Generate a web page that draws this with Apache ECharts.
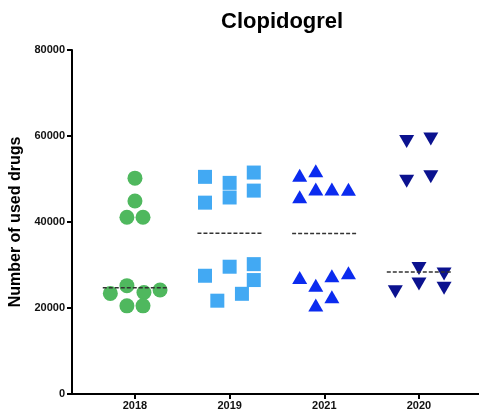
<!DOCTYPE html>
<html><head><meta charset="utf-8">
<script src="https://cdn.jsdelivr.net/npm/echarts@6/dist/echarts.min.js"></script>
<style>html,body{margin:0;padding:0;background:#fff}#c{width:479px;height:416px}</style>
</head><body><div id="c"></div>
<script>
var categories = ['2018', '2019', '2021', '2020'];
var yTicks = [0, 20000, 40000, 60000, 80000];
// values per group and their horizontal jitter (in category units)
var v2018 = [50200, 44900, 41100, 41100, 25200, 23400, 23600, 24200, 20500, 20500];
var j2018 = [0, 0, -0.085, 0.085, -0.085, -0.26, 0.095, 0.265, -0.085, 0.085];
var v2019 = [50500, 49100, 51500, 47300, 45700, 44500, 29600, 30200, 27500, 26500, 23300, 21700];
var j2019 = [-0.26, 0, 0.255, 0.255, 0, -0.26, 0, 0.255, -0.26, 0.255, 0.13, -0.13];
var v2021 = [50900, 51900, 47700, 47700, 47600, 45900, 27100, 27500, 28200, 25300, 22600, 20700];
var j2021 = [-0.26, -0.09, -0.09, 0.08, 0.255, -0.26, -0.26, 0.08, 0.255, -0.09, 0.08, -0.09];
var v2020 = [58700, 59300, 49500, 50500, 29200, 27900, 25600, 24600, 23800];
var j2020 = [-0.13, 0.125, -0.13, 0.125, 0, 0.265, 0, 0.265, -0.25];
var medians = [24700, 37400, 37300, 28400];

var groups = [v2018, v2019, v2021, v2020];
var jitters = [j2018, j2019, j2021, j2020];
var colors = ['#4fb85e', '#42a9f3', '#0b2bef', '#0b128f'];
var symbols = ['circle', 'rect', 'triangle', 'path://M0,0 L10,0 L5,9 Z'];
var sizes = [[15, 15], [14, 14], [15, 13], [15, 13]];

var series = [];
groups.forEach(function (vals, g) {
  series.push({
    type: 'scatter',
    symbol: symbols[g],
    symbolSize: sizes[g],
    itemStyle: { color: colors[g], opacity: 1 },
    z: 2,
    data: vals.map(function (v, i) { return [g + 1 + jitters[g][i], v]; })
  });
});
medians.forEach(function (m, g) {
  series.push({
    type: 'line',
    symbol: 'none',
    silent: true,
    z: 3,
    lineStyle: { color: '#333', width: 1.5, type: [4, 2] },
    data: [[g + 1 - 0.34, m], [g + 1 + 0.34, m]]
  });
});

var chart = echarts.init(document.getElementById('c'), null, { renderer: 'canvas' });
chart.setOption({
  animation: false,
  title: {
    text: 'Clopidogrel',
    left: 216, top: 6,
    textStyle: { fontFamily: 'Liberation Sans, Arial, sans-serif', fontWeight: 'bold', fontSize: 22, color: '#000' }
  },
  grid: { left: 72, right: 0, top: 50, bottom: 22, containLabel: false, outerBoundsMode: 'none' },
  xAxis: {
    type: 'value',
    min: 0.335, max: 4.634,
    splitLine: { show: false },
    axisLine: { show: true, lineStyle: { color: '#000', width: 2 } },
    axisTick: { show: true, length: 5, customValues: [1, 2, 3, 4], lineStyle: { color: '#000', width: 2 } },
    axisLabel: {
      customValues: [1, 2, 3, 4],
      formatter: function (v) { return categories[Math.round(v) - 1]; },
      fontFamily: 'Liberation Sans, Arial, sans-serif', fontWeight: 'bold', fontSize: 11, color: '#111', margin: 6
    }
  },
  yAxis: {
    type: 'value',
    min: 0, max: 80000, interval: 20000,
    name: 'Number of used drugs',
    nameLocation: 'middle',
    nameGap: 47,
    nameTextStyle: { fontFamily: 'Liberation Sans, Arial, sans-serif', fontWeight: 'bold', fontSize: 16, color: '#000' },
    splitLine: { show: false },
    axisLine: { show: true, lineStyle: { color: '#000', width: 2 } },
    axisTick: { show: true, length: 5, lineStyle: { color: '#000', width: 2 } },
    axisLabel: {
      formatter: function (v) { return yTicks.indexOf(v) >= 0 ? String(v) : ''; },
      fontFamily: 'Liberation Sans, Arial, sans-serif', fontWeight: 'bold', fontSize: 11, color: '#111', margin: 7
    }
  },
  series: series
});
</script></body></html>
